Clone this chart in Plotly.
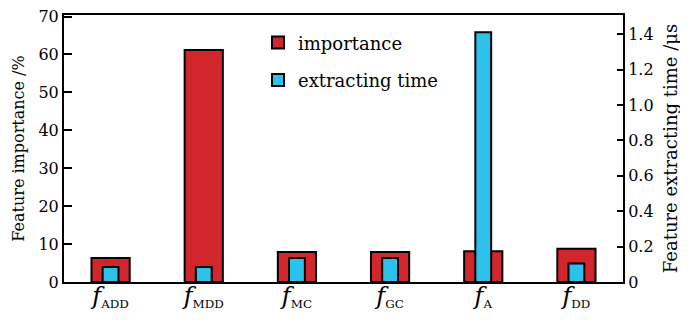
import plotly.graph_objects as go

categories = ["ADD", "MDD", "MC", "GC", "A", "DD"]
importance = [6.3, 61.2, 7.9, 7.9, 8.1, 8.8]          # %
extract_time = [0.085, 0.085, 0.136, 0.136, 1.41, 0.105]  # µs
left_ticks = [0, 10, 20, 30, 40, 50, 60, 70]
right_ticks = [0, 0.2, 0.4, 0.6, 0.8, 1.0, 1.2, 1.4]
right_ticktext = ["0", "0.2", "0.4", "0.6", "0.8", "1.0", "1.2", "1.4"]

FONT = "DejaVu Serif"
RED = "rgb(210,38,45)"
BLUE = "rgb(44,192,234)"

xpos = list(range(len(categories)))
xlabels = [f"<span style='font-size:24px'><i>f</i></span><sub>{c}</sub>" for c in categories]

fig = go.Figure()
fig.add_trace(go.Bar(
    x=xpos, y=importance, name="importance", yaxis="y",
    width=[0.41] * len(xpos),
    marker=dict(color=RED, line=dict(color="black", width=2)),
    legendgroup="a",
))
fig.add_trace(go.Bar(
    x=xpos, y=extract_time, name="extracting time", yaxis="y2",
    width=[0.17] * len(xpos),
    marker=dict(color=BLUE, line=dict(color="black", width=2)),
    legendgroup="b",
))

# the page body adds an 8px offset, so the figure is 8px smaller than the window
fig.update_layout(
    width=680, height=312,
    margin=dict(l=56, r=65, t=7, b=38, autoexpand=False),
    paper_bgcolor="white", plot_bgcolor="white",
    font=dict(family=FONT, size=16, color="black"),
    barmode="overlay",
    showlegend=True,
    legend=dict(x=0.347, y=0.965, xanchor="left", yanchor="top",
                bgcolor="rgba(0,0,0,0)", font=dict(size=18, family=FONT),
                traceorder="grouped", tracegroupgap=11, itemwidth=30),
    xaxis=dict(range=[-0.5, 5.5], tickvals=xpos, ticktext=xlabels,
               showline=True, linecolor="black", linewidth=2, mirror=True,
               ticks="", showgrid=False, zeroline=False, automargin=False,
               tickfont=dict(size=17, family=FONT)),
    yaxis=dict(range=[0, 70.4], tickvals=left_ticks,
               showline=True, linecolor="black", linewidth=2,
               ticks="inside", ticklen=8, tickwidth=2, tickcolor="black",
               showgrid=False, zeroline=False, automargin=False,
               ticklabeloverflow="allow",
               title=dict(text="Feature importance /%", font=dict(size=16, family=FONT), standoff=10)),
    yaxis2=dict(range=[0, 1.508], overlaying="y", side="right",
                tickvals=right_ticks, ticktext=right_ticktext,
                showline=True, linecolor="black", linewidth=2,
                ticks="inside", ticklen=6, tickwidth=2, tickcolor="black",
                showgrid=False, zeroline=False, automargin=False,
                ticklabeloverflow="allow",
                title=dict(text="Feature extracting time /μs", font=dict(size=18, family=FONT), standoff=12)),
)

fig.write_html("out.html")
